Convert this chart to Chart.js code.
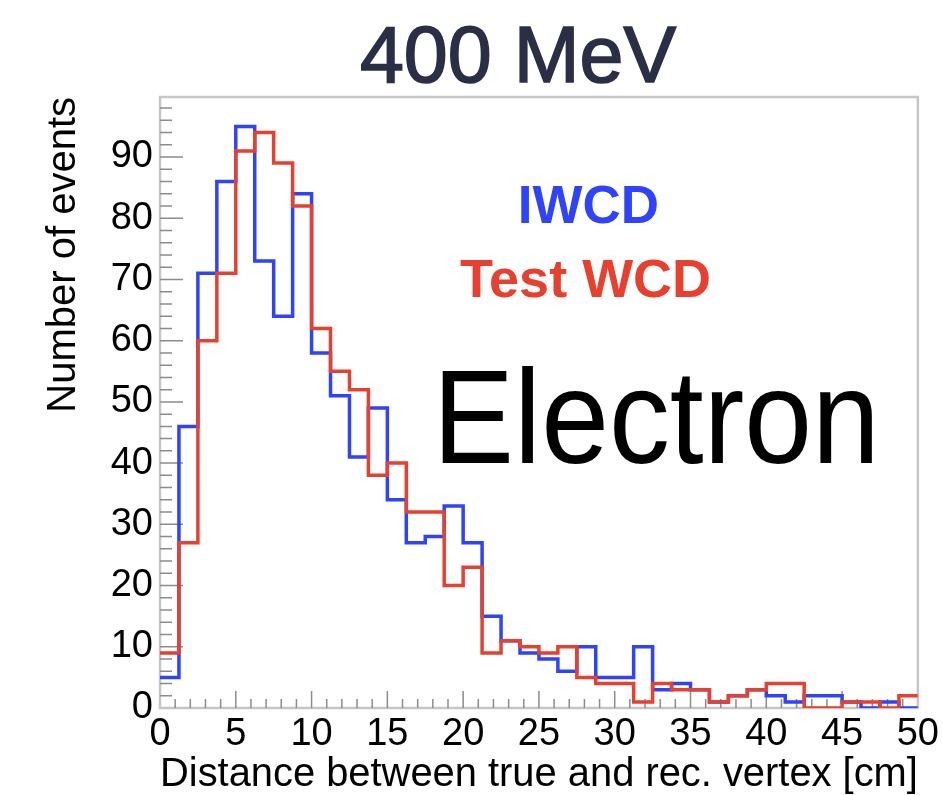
<!DOCTYPE html>
<html>
<head>
<meta charset="utf-8">
<script src="https://cdn.jsdelivr.net/npm/chart.js@4.4.1/dist/chart.umd.min.js"></script>
<style>
  html, body { margin: 0; padding: 0; background: #fff; }
  #wrap { width: 943px; height: 795px; }
</style>
</head>
<body>
<div id="wrap"><canvas id="chart" width="943" height="795"></canvas></div>
<script>
// 40 bins of 1.25 cm from 0 to 50 cm
const binWidth = 1.25;
const iwcdCounts = [5, 46, 71, 86, 95, 73, 64, 84, 58, 51,
                    41, 49, 34, 27, 28, 33, 27, 15, 11, 9,
                    8, 6, 10, 5, 5, 10, 3, 4, 3, 1,
                    2, 3, 2, 1, 2, 2, 1, 0, 1, 0];
const testWcdCounts = [9, 27, 60, 71, 91, 94, 89, 82, 62, 55,
                       52, 38, 40, 32, 32, 20, 23, 9, 11, 10,
                       9, 10, 5, 4, 4, 1, 4, 3, 3, 1,
                       2, 3, 4, 4, 0, 0, 1, 1, 0, 2];

const titleText = '400 MeV';
const xTitle = 'Distance between true and rec. vertex [cm]';
const yTitle = 'Number of events';
const seriesNames = ['IWCD', 'Test WCD'];
const particleText = 'Electron';

const FONT = '"Liberation Sans", Arial, Helvetica, sans-serif';
const BLUE = '#2f43fa';
const RED = '#e8402f';

function histPoints(counts) {
    const pts = counts.map((c, i) => ({ x: i * binWidth, y: c }));
    pts.push({ x: counts.length * binWidth, y: counts[counts.length - 1] });
    return pts;
}

// text placed in data coordinates
const notes = [
    { text: seriesNames[0], x: 23.6, y: 79.2, color: BLUE, font: 'bold 53px ' + FONT },
    { text: seriesNames[1], x: 19.8, y: 67.1, color: RED, font: 'bold 54px ' + FONT },
    { text: particleText, x: 18.0, y: 40.0, color: '#000', font: '133px ' + FONT, maxWidth: 447 },
];

// ROOT-like frame with inward ticks, plus the title and text labels
const rootFrame = {
    id: 'rootFrame',
    beforeDatasetsDraw(chart) {
        const { ctx, chartArea: a, scales: { x, y } } = chart;
        ctx.save();
        ctx.strokeStyle = '#c6c6c6';
        ctx.lineWidth = 2.5;
        ctx.strokeRect(a.left, a.top, a.right - a.left, a.bottom - a.top);

        ctx.strokeStyle = '#8c8c8c';
        ctx.lineWidth = 1.5;
        ctx.beginPath();
        for (let v = 1; v < 50; v += 1) {
            const px = x.getPixelForValue(v);
            const len = v % 5 === 0 ? 17 : 9;
            ctx.moveTo(px, a.bottom);
            ctx.lineTo(px, a.bottom - len);
        }
        for (let v = 2; v < 100; v += 2) {
            const py = y.getPixelForValue(v);
            const len = v % 10 === 0 ? 23 : 12;
            ctx.moveTo(a.left, py);
            ctx.lineTo(a.left + len, py);
        }
        ctx.stroke();
        ctx.restore();
    },
    afterDraw(chart) {
        const { ctx, chartArea: a, scales: { x, y } } = chart;
        ctx.save();
        ctx.textBaseline = 'alphabetic';
        ctx.textAlign = 'center';
        ctx.fillStyle = '#2b2f45';
        ctx.strokeStyle = '#2b2f45';
        ctx.lineWidth = 1.6;
        ctx.font = '79px ' + FONT;
        ctx.fillText(titleText, 518, a.top - 15);
        ctx.strokeText(titleText, 518, a.top - 15);

        ctx.textAlign = 'left';
        notes.forEach(n => {
            ctx.font = n.font;
            ctx.fillStyle = n.color;
            const px = x.getPixelForValue(n.x);
            const py = y.getPixelForValue(n.y);
            if (n.maxWidth) ctx.fillText(n.text, px, py, n.maxWidth);
            else ctx.fillText(n.text, px, py);
        });
        ctx.restore();
    }
};

const data = {
    datasets: [
        {
            label: seriesNames[0],
            data: histPoints(iwcdCounts),
            borderColor: BLUE,
            borderWidth: 3.5,
            pointRadius: 0,
            fill: false,
            stepped: 'before',
            order: 2,
        },
        {
            label: seriesNames[1],
            data: histPoints(testWcdCounts),
            borderColor: RED,
            borderWidth: 3.5,
            pointRadius: 0,
            fill: false,
            stepped: 'before',
            order: 1,
        },
    ],
};

const config = {
    type: 'line',
    data: data,
    options: {
        responsive: false,
        animation: false,
        devicePixelRatio: 1,
        layout: { padding: { top: 97, right: 21, left: 0, bottom: 0 } },
        plugins: {
            legend: { display: false },
            tooltip: { enabled: false },
        },
        scales: {
            x: {
                type: 'linear',
                min: 0,
                max: 50,
                grid: { display: false, drawTicks: false },
                border: { display: false },
                ticks: {
                    stepSize: 5,
                    autoSkip: false,
                    maxRotation: 0,
                    padding: 4,
                    color: '#000',
                    font: { family: FONT, size: 38 },
                },
                title: {
                    display: true,
                    text: xTitle,
                    align: 'end',
                    color: '#000',
                    padding: 0,
                    font: { family: FONT, size: 41, lineHeight: 1 },
                },
                afterFit(scale) { scale.height = 87; },
            },
            y: {
                min: 0,
                max: 99.8,
                grid: { display: false, drawTicks: false },
                border: { display: false },
                ticks: {
                    stepSize: 10,
                    includeBounds: false,
                    padding: 7,
                    color: '#000',
                    font: { family: FONT, size: 38 },
                },
                title: {
                    display: true,
                    text: yTitle,
                    align: 'end',
                    color: '#000',
                    padding: { top: 40, bottom: 0 },
                    font: { family: FONT, size: 40, lineHeight: 1.2 },
                },
                afterFit(scale) { scale.width = 160; },
            },
        },
    },
    plugins: [rootFrame],
};

window.myChart = new Chart(document.getElementById('chart'), config);
</script>
</body>
</html>
